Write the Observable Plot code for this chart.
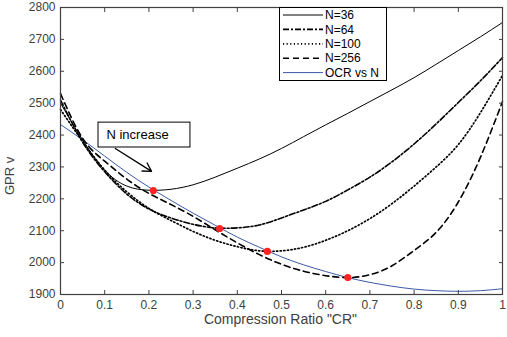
<!DOCTYPE html>
<html><head><meta charset="utf-8">
<script src="https://cdn.jsdelivr.net/npm/d3@7"></script>
<script src="https://cdn.jsdelivr.net/npm/@observablehq/plot@0.6"></script>
<style>body{margin:0;background:#fff} svg{display:block}</style>
</head><body><div id="chart"></div>
<script>
// ---- data ----
const cr = [0,0.05,0.1,0.15,0.2,0.25,0.3,0.35,0.4,0.45,0.5,0.55,0.6,0.65,0.7,0.75,0.8,0.85,0.9,0.95,1];
const n36  = [2500,2385,2290,2240,2227,2230,2244,2268,2296,2325,2358,2395,2432,2468,2505,2542,2580,2622,2665,2708,2753];
const n64  = [2510,2378,2285,2215,2168,2140,2120,2109,2109,2118,2140,2165,2192,2228,2268,2316,2372,2435,2502,2570,2643];
const n100 = [2480,2380,2290,2222,2170,2132,2098,2070,2050,2037,2037,2048,2070,2100,2138,2185,2240,2300,2370,2470,2587];
const n256 = [2530,2390,2318,2262,2217,2182,2145,2103,2062,2025,1995,1973,1959,1953,1962,1990,2038,2095,2190,2330,2505];
const ocr  = [2433,2385,2334,2283,2237,2195,2155,2117,2080,2048,2018,1993,1972,1953,1938,1926,1917,1912,1910,1912,1918];
const seriesNames = ["N=36","N=64","N=100","N=256","OCR vs N"];
const optimalCR = [0.21,0.36,0.468,0.65];
const optimalV  = [2226,2107,2035,1953];
const xTicks = [0,0.1,0.2,0.3,0.4,0.5,0.6,0.7,0.8,0.9,1];
const yTicks = [1900,2000,2100,2200,2300,2400,2500,2600,2700,2800];
const xLabel = "Compression Ratio \"CR\"";
const yLabel = "GPR v";
const noteText = "N increase";
const noteBoxCR = [0.086, 0.294]; const noteBoxV = [2361, 2439];
const noteTextAt = [0.104, 2402];
const arrowFrom = [0.124, 2358]; const arrowTo = [0.206, 2286];

// ---- styles ----
const styles = {
  "N=36":    {stroke:"#000", strokeWidth:1, dash:null},
  "N=64":    {stroke:"#000", strokeWidth:1.6, dash:"6,2,2,2"},
  "N=100":   {stroke:"#000", strokeWidth:1.7, dash:"1.2,2.4"},
  "N=256":   {stroke:"#000", strokeWidth:1.6, dash:"6,4"},
  "OCR vs N":{stroke:"#3b5aa6", strokeWidth:1, dash:null}
};
const values = [n36, n64, n100, n256, ocr];
const lineMarks = [0,1,2,3,4].map(i => {
  const name = seriesNames[i], s = styles[name];
  const rows = cr.map((c, j) => ({cr: c, v: values[i][j]}));
  return Plot.line(rows, {x:"cr", y:"v", curve:"natural", stroke:s.stroke, strokeWidth:s.strokeWidth, strokeDasharray:s.dash});
});
const dots = optimalCR.map((c, i) => ({cr: c, v: optimalV[i]}));
const axisColor = "#404040";
const fmt = d => String(+d.toFixed(1));

const plot = Plot.plot({
  width: 507, height: 337,
  marginLeft: 60, marginRight: 5, marginTop: 7, marginBottom: 43,
  style: {fontFamily: "'Liberation Sans', Arial, sans-serif", fontSize: "12px", color: axisColor, background: "#fff"},
  x: {domain: [0, 1], label: null},
  y: {domain: [1900, 2800], label: null},
  marks: [
    // N increase box
    Plot.rect([0], {x1: () => noteBoxCR[0], x2: () => noteBoxCR[1], y1: () => noteBoxV[0], y2: () => noteBoxV[1], fill:"#fff", stroke:"#000", strokeWidth:1}),
    Plot.text([noteText], {x: () => noteTextAt[0], y: () => noteTextAt[1], text: d => d, textAnchor:"start", fontSize:13, fill:"#000"}),
    Plot.arrow([0], {x1: () => arrowFrom[0], y1: () => arrowFrom[1], x2: () => arrowTo[0], y2: () => arrowTo[1], stroke:"#000", strokeWidth:1.3, headLength:11}),
    ...lineMarks.reverse(),
    Plot.dot(dots, {x:"cr", y:"v", r:3.6, fill:"#ff2424", stroke:"none"}),
    Plot.frame({stroke: axisColor, strokeWidth: 1.2}),
    // tick labels
    Plot.axisX({ticks: xTicks, tickSize: 0, tickPadding: 6, tickFormat: fmt, label: null, fontSize: 12}),
    Plot.axisY({ticks: yTicks, tickSize: 0, tickPadding: 5, tickFormat: d => String(d), label: null, fontSize: 12}),
    // inward ticks on all sides
    Plot.axisX({anchor:"bottom", ticks: xTicks, tickSize: 4, dy: -4, tickFormat: () => "", label: null}),
    Plot.axisX({anchor:"top", ticks: xTicks, tickSize: 4, dy: 4, tickFormat: () => "", label: null}),
    Plot.axisY({anchor:"left", ticks: yTicks, tickSize: 4, dx: 4, tickFormat: () => "", label: null}),
    Plot.axisY({anchor:"right", ticks: yTicks, tickSize: 4, dx: -4, tickFormat: () => "", label: null}),
    // axis titles
    Plot.text([xLabel], {frameAnchor:"bottom", text: d => d, dx: -1, dy: 29, fontSize: 14, fill: axisColor}),
    Plot.text([yLabel], {frameAnchor:"left", text: d => d, dx: -51, dy: 44, rotate: -90, fontSize: 13, fill: axisColor})
  ]
});
document.getElementById("chart").appendChild(plot);

// ---- legend (inside the axes, top) ----
const svg = d3.select(plot);
const lg = svg.append("g").attr("font-family", "'Liberation Sans', Arial, sans-serif").attr("font-size", 12).attr("text-anchor", "start");
lg.append("rect").attr("x", 279.5).attr("y", 7.5).attr("width", 107).attr("height", 73)
  .attr("fill", "#fff").attr("stroke", "#000").attr("stroke-width", 1);
seriesNames.forEach((name, i) => {
  const s = styles[name], y = 15 + i * 14.4;
  lg.append("line").attr("x1", 283).attr("x2", 323).attr("y1", y).attr("y2", y)
    .attr("stroke", s.stroke).attr("stroke-width", s.strokeWidth).attr("stroke-dasharray", s.dash);
  lg.append("text").attr("x", 325).attr("y", y).attr("dy", "0.35em").attr("text-anchor", "start").attr("fill", "#000").text(name);
});
</script>
</body></html>
